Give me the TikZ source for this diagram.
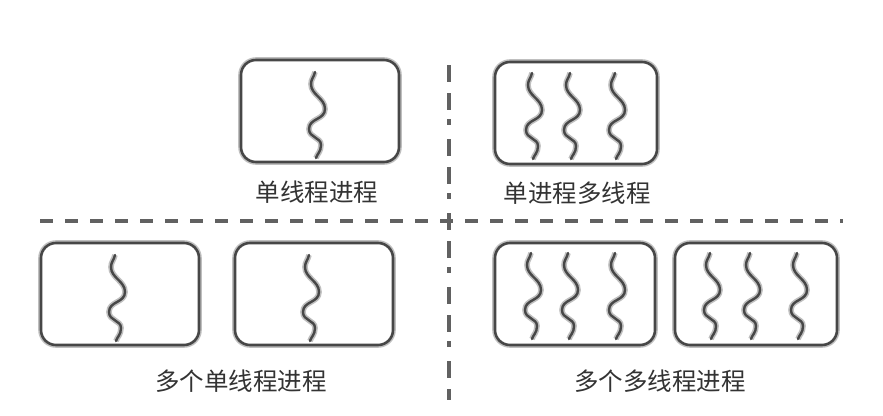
\documentclass[tikz,border=0pt]{standalone}
\usepackage{fontspec}
\setmainfont{Noto Sans CJK SC}
\begin{document}
\begin{tikzpicture}[x=1pt,y=-1pt,
  halo/.style={preaction={draw=black!25,line width=5.6pt}},
  procbox/.style={draw=black!72,line width=2.6pt,rounded corners=15pt,halo,
    minimum width=158pt,minimum height=102pt,inner sep=0pt,outer sep=0pt,fill=white},
  lbl/.style={text=black!80,font=\fontsize{24.5pt}{28pt}\selectfont,inner sep=0pt},
  hdash/.style={draw=black!62,line width=3.4pt,dash pattern=on 13pt off 12pt},
  vdash/.style={draw=black!62,line width=3.6pt,
    dash pattern=on 17pt off 9pt on 6pt off 14pt on 17pt off 11pt,dash phase=36pt},
  thread/.pic={
    \draw[draw=black!72,line width=2.4pt,line cap=round,halo]
      (0,0) .. controls (-1,5) and (-4,7) .. (-4,12)
      .. controls (-4,23) and (10,26) .. (10,37)
      .. controls (10,48) and (-6,46) .. (-6,57)
      .. controls (-6,66) and (6,65) .. (6,73)
      .. controls (6,80) and (2,82) .. (1,86);
  }]
\useasboundingbox (0,0) rectangle (883,415);
\fill[white] (0,0) rectangle (883,415);

% dashed separators
\coordinate (hl) at (40,221);
\coordinate (hr) at (843,221);
\coordinate (vt) at (449,55);
\coordinate (vb) at (449,400);
\draw[hdash] (hl) -- (hr);
\draw[vdash] (vt) -- (vb);

% top-left: single-threaded process
\node[procbox] (p1) at (320,111) {};
\pic at (315,72) {thread};
\node[lbl] (l1) at (317,192) {单线程进程};

% top-right: single process, multiple threads
\node[procbox,minimum width=162pt] (p2) at (576,113) {};
\pic at (532,73) {thread};
\pic at (570,73) {thread};
\pic at (615,73) {thread};
\node[lbl] (l2) at (577,193) {单进程多线程};

% bottom-left: multiple single-threaded processes
\node[procbox] (p3) at (120,294) {};
\pic at (115,255) {thread};
\node[procbox] (p4) at (314,294) {};
\pic at (309,255) {thread};
\node[lbl] (l3) at (241,381) {多个单线程进程};

% bottom-right: multiple multi-threaded processes
\node[procbox,minimum width=160pt] (p5) at (575,294) {};
\pic at (531,253) {thread};
\pic at (568,253) {thread};
\pic at (615,253) {thread};
\node[procbox,minimum width=162pt] (p6) at (756,294) {};
\pic at (710,253) {thread};
\pic at (750,253) {thread};
\pic at (797,253) {thread};
\node[lbl] (l4) at (660,381) {多个多线程进程};
\end{tikzpicture}
\end{document}
